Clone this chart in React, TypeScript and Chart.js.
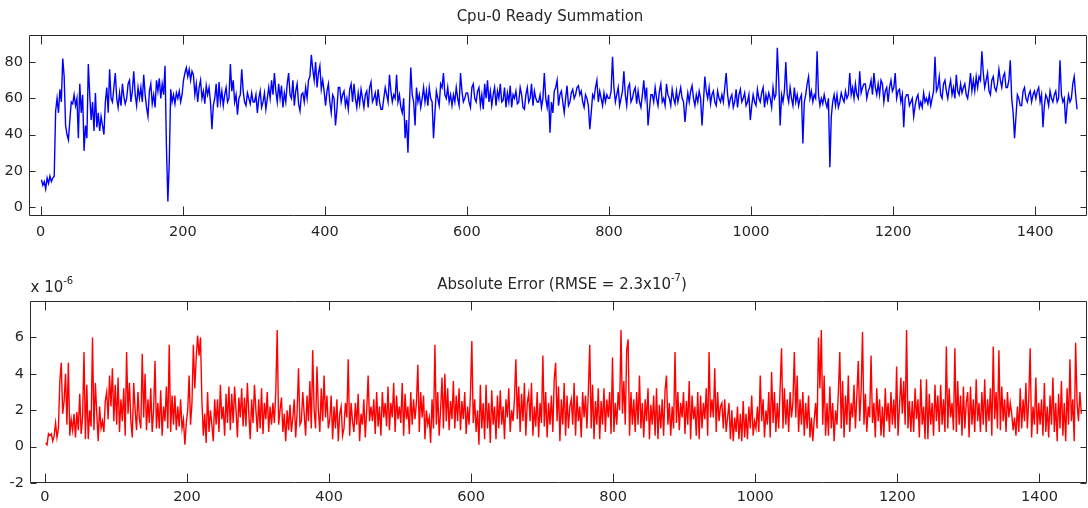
import React, { useEffect, useRef } from "react";
import { Chart, registerables } from "chart.js";

Chart.register(...registerables);

// Readings taken every SAMPLE_STEP samples, starting at sample FIRST_SAMPLE
const SAMPLE_STEP = 2;
const FIRST_SAMPLE = 1;

// Cpu-0 ready summation
const cpuReady: number[] = [
  15, 12, 14, 10, 16, 13, 17, 14, 16, 17, 53, 60, 52, 65, 58, 82, 72, 45, 40, 37, 48, 58, 57, 62, 56, 60, 38, 68, 52, 62, 31, 45, 38, 79, 62, 48, 58, 42, 63, 44, 52, 42, 50, 45, 40, 58, 66, 52, 76, 60,
  58, 66, 74, 60, 55, 63, 56, 68, 61, 57, 60, 68, 70, 58, 64, 75, 62, 56, 66, 60, 66, 58, 73, 62, 55, 50, 64, 68, 57, 62, 55, 70, 64, 71, 60, 68, 62, 78, 33, 3, 25, 65, 58, 62, 57, 63, 60, 64, 58, 62,
  70, 74, 77, 72, 76, 70, 75, 73, 62, 68, 58, 66, 70, 60, 64, 57, 67, 62, 66, 58, 43, 56, 60, 68, 55, 69, 58, 64, 56, 62, 66, 58, 60, 79, 64, 70, 58, 62, 51, 60, 62, 76, 64, 58, 56, 63, 60, 57, 63, 58,
  58, 62, 52, 60, 64, 55, 58, 63, 54, 60, 66, 60, 70, 62, 74, 64, 58, 68, 60, 67, 55, 63, 58, 68, 74, 62, 60, 70, 56, 64, 68, 57, 53, 62, 63, 58, 66, 60, 70, 72, 84, 76, 70, 80, 66, 74, 78, 65, 70, 64,
  56, 64, 68, 58, 52, 62, 60, 45, 54, 66, 66, 58, 62, 64, 56, 60, 54, 65, 68, 58, 68, 60, 55, 63, 57, 65, 60, 55, 62, 64, 55, 66, 69, 58, 60, 63, 56, 65, 58, 54, 54, 60, 66, 62, 58, 73, 64, 58, 62, 60,
  73, 58, 62, 55, 52, 60, 38, 48, 30, 55, 77, 62, 58, 45, 66, 58, 62, 55, 60, 66, 58, 64, 56, 66, 60, 58, 38, 52, 64, 60, 56, 68, 66, 74, 62, 60, 66, 58, 62, 56, 62, 58, 66, 60, 56, 74, 64, 58, 60, 63,
  63, 58, 55, 66, 68, 60, 58, 64, 66, 56, 62, 54, 68, 60, 70, 58, 64, 56, 62, 66, 56, 64, 60, 68, 58, 59, 66, 55, 63, 58, 67, 55, 62, 60, 64, 57, 58, 66, 62, 55, 54, 62, 66, 58, 60, 68, 56, 64, 60, 58,
  58, 62, 55, 60, 74, 60, 55, 62, 41, 58, 52, 64, 66, 70, 56, 62, 64, 58, 52, 60, 67, 56, 58, 63, 65, 60, 62, 66, 67, 62, 64, 58, 55, 62, 60, 56, 43, 52, 62, 60, 66, 70, 58, 64, 60, 56, 63, 58, 62, 60,
  60, 64, 83, 66, 58, 62, 66, 56, 60, 64, 75, 62, 56, 66, 68, 58, 60, 64, 66, 57, 64, 58, 55, 62, 70, 60, 66, 45, 54, 62, 62, 58, 66, 60, 56, 64, 68, 58, 60, 56, 68, 62, 60, 56, 65, 60, 57, 64, 58, 62,
  66, 60, 58, 47, 56, 63, 58, 64, 67, 60, 56, 62, 58, 64, 60, 45, 58, 72, 64, 60, 66, 57, 62, 64, 58, 56, 64, 60, 58, 62, 58, 66, 74, 62, 56, 60, 62, 55, 58, 65, 55, 62, 65, 58, 60, 63, 56, 58, 62, 48,
  56, 62, 58, 56, 65, 60, 58, 63, 66, 55, 62, 58, 63, 60, 55, 66, 60, 62, 88, 70, 45, 62, 58, 64, 80, 62, 58, 66, 60, 56, 66, 58, 62, 56, 60, 62, 35, 58, 62, 68, 72, 60, 64, 58, 62, 60, 86, 62, 56, 60,
  57, 62, 58, 55, 60, 22, 50, 58, 62, 56, 62, 55, 58, 63, 60, 58, 64, 60, 62, 74, 62, 66, 60, 68, 62, 60, 75, 63, 66, 68, 68, 60, 64, 66, 70, 62, 74, 66, 62, 68, 62, 70, 68, 58, 64, 66, 58, 66, 70, 64,
  66, 74, 60, 64, 65, 58, 62, 44, 60, 62, 62, 56, 58, 60, 50, 56, 60, 62, 55, 58, 55, 63, 58, 60, 57, 62, 56, 60, 64, 83, 64, 66, 72, 62, 60, 68, 70, 64, 60, 66, 70, 62, 66, 60, 73, 64, 62, 68, 63, 66,
  68, 62, 60, 66, 74, 64, 70, 64, 72, 66, 72, 70, 86, 74, 66, 70, 74, 64, 62, 70, 72, 66, 64, 68, 76, 70, 66, 72, 74, 66, 66, 70, 81, 60, 52, 38, 50, 62, 60, 56, 56, 64, 66, 60, 58, 62, 64, 58, 62, 64,
  60, 64, 66, 58, 62, 44, 56, 62, 60, 56, 64, 60, 58, 62, 64, 58, 60, 81, 62, 58, 60, 46, 56, 62, 58, 60, 68, 72, 62, 54,
];

// Absolute error, in units of 1e-6
const absError: number[] = [
  0.2, 0.1, 0.7, 0.6, 0.7, 0.3, 0.6, 1.3, 0.5, 1.0, 3.6, 4.6, 1.8, 2.5, 4.0, 1.2, 4.6, 0.6, 1.5, 0.9, 1.8, 0.5, 1.9, 0.9, 2.9, 0.7, 1.6, 5.2, 0.4, 3.4, 0.4, 2.0, 1.1, 6.0, 0.9, 3.5, 1.8, 0.3, 2.2, 1.0, 1.4, 0.8, 2.5, 3.0, 1.5, 3.9, 2.2, 4.3, 1.4, 3.4,
  1.2, 3.8, 0.8, 2.6, 1.4, 3.2, 0.6, 5.2, 1.8, 3.5, 1.4, 0.5, 3.5, 2.0, 0.9, 3.0, 1.5, 1.0, 5.1, 1.6, 4.0, 0.9, 2.6, 1.3, 3.2, 0.8, 2.0, 4.7, 1.0, 2.4, 1.0, 3.1, 0.6, 2.2, 1.4, 3.3, 1.0, 5.6, 0.8, 2.8, 1.2, 2.8, 0.9, 2.2, 1.1, 2.6, 1.0, 1.5, 0.1, 1.3,
  2.0, 3.9, 1.2, 2.4, 5.6, 3.2, 4.9, 6.1, 5.0, 6.0, 2.5, 0.6, 1.8, 0.2, 3.0, 0.8, 2.0, 1.2, 0.3, 2.6, 1.2, 2.6, 0.8, 3.4, 1.5, 2.2, 0.6, 2.9, 1.3, 3.3, 0.9, 2.9, 1.3, 3.3, 2.0, 0.5, 2.7, 1.6, 3.2, 1.1, 2.7, 1.1, 3.5, 1.8, 0.4, 2.6, 1.3, 3.4, 2.0, 0.8,
  2.6, 1.0, 3.2, 0.7, 2.4, 1.5, 3.0, 0.8, 2.2, 1.2, 2.4, 1.3, 3.0, 6.4, 1.2, 2.0, 2.7, 0.8, 1.8, 0.3, 2.0, 0.9, 2.3, 0.8, 1.6, 2.6, 0.5, 1.9, 4.3, 1.2, 1.4, 3.0, 1.8, 0.6, 2.8, 1.4, 3.6, 1.0, 5.3, 2.0, 1.0, 4.4, 2.0, 0.8, 3.2, 1.4, 3.9, 1.6, 2.8, 1.0,
  1.5, 2.8, 0.4, 2.2, 1.0, 2.6, 0.3, 1.8, 2.2, 0.6, 1.0, 2.4, 1.6, 4.8, 0.6, 2.4, 1.4, 0.8, 2.4, 1.2, 2.9, 0.3, 1.8, 1.2, 2.6, 0.5, 2.0, 3.9, 1.4, 2.2, 1.4, 2.6, 0.7, 3.0, 1.1, 2.2, 0.6, 3.0, 1.6, 2.4, 1.1, 3.3, 0.9, 2.4, 1.6, 3.5, 0.8, 2.8, 1.5, 2.2,
  1.3, 3.5, 0.6, 2.9, 1.5, 2.2, 0.7, 3.0, 1.2, 2.6, 1.5, 2.4, 4.5, 0.8, 3.0, 1.6, 2.8, 0.4, 2.0, 1.2, 1.6, 0.2, 2.6, 1.0, 5.6, 1.2, 3.0, 0.6, 2.0, 3.8, 1.0, 4.0, 1.4, 3.2, 0.9, 2.5, 1.5, 3.6, 1.0, 2.8, 1.4, 3.2, 0.9, 2.5, 1.5, 3.0, 0.7, 2.2, 1.2, 2.8,
  5.8, 1.3, 2.6, 0.8, 2.0, 0.1, 3.4, 1.0, 2.4, 0.4, 3.4, 1.0, 2.4, 0.2, 3.1, 1.2, 2.2, 0.4, 2.8, 1.0, 3.1, 1.2, 2.2, 0.4, 2.6, 1.6, 3.2, 0.8, 2.0, 1.4, 2.6, 4.8, 1.5, 3.3, 0.8, 2.9, 1.4, 3.5, 0.6, 2.4, 2.9, 1.4, 3.5, 0.6, 2.2, 1.1, 3.0, 0.5, 2.4, 1.3,
  5.0, 1.1, 3.0, 0.5, 2.4, 1.2, 2.8, 0.8, 3.7, 4.6, 1.4, 3.3, 0.3, 2.6, 1.2, 3.5, 0.6, 2.8, 1.0, 2.2, 2.6, 1.2, 3.5, 0.6, 2.8, 1.4, 2.2, 0.5, 3.0, 1.6, 2.8, 1.0, 3.0, 5.6, 1.0, 3.4, 0.4, 2.5, 1.2, 3.2, 0.4, 2.5, 1.2, 3.2, 0.8, 2.6, 1.6, 3.0, 0.7, 4.9,
  0.8, 2.4, 1.2, 3.0, 2.0, 6.4, 1.8, 3.6, 1.2, 5.3, 5.9, 0.6, 3.0, 1.2, 2.6, 0.8, 3.0, 1.2, 3.9, 1.0, 2.4, 0.5, 2.6, 1.4, 3.2, 0.4, 2.3, 1.2, 2.8, 0.6, 3.2, 0.4, 2.3, 1.0, 2.6, 0.6, 3.1, 3.9, 1.2, 2.4, 0.6, 2.2, 1.0, 5.2, 1.3, 3.0, 0.9, 2.4, 1.6, 3.0,
  0.7, 2.5, 1.2, 3.6, 0.4, 2.8, 1.5, 2.2, 0.6, 3.0, 0.4, 2.8, 1.0, 2.4, 1.5, 3.2, 0.6, 5.2, 1.6, 2.6, 1.6, 4.3, 0.8, 3.0, 1.4, 2.2, 2.4, 1.0, 2.6, 0.8, 1.6, 2.4, 0.4, 2.0, 0.3, 1.6, 0.8, 2.2, 0.4, 1.8, 0.3, 2.5, 0.5, 1.8, 0.4, 2.2, 1.0, 2.8, 0.6, 1.4,
  1.0, 2.2, 0.8, 3.9, 1.4, 2.6, 0.5, 2.0, 1.2, 3.0, 0.5, 4.1, 1.3, 3.0, 0.8, 2.4, 1.0, 3.2, 5.4, 1.0, 3.2, 1.2, 2.6, 0.8, 3.0, 1.6, 2.4, 5.2, 1.6, 3.9, 0.8, 2.6, 1.2, 3.0, 0.6, 2.4, 1.0, 2.8, 0.5, 1.6, 0.3, 1.5, 2.4, 1.0, 6.0, 3.2, 6.4, 1.2, 3.9, 0.6,
  2.4, 0.6, 3.3, 1.0, 2.4, 0.3, 2.0, 1.2, 3.0, 5.2, 1.0, 3.6, 0.5, 2.8, 1.2, 3.9, 0.8, 2.4, 1.6, 3.4, 1.0, 2.8, 4.7, 1.4, 3.0, 6.3, 1.2, 2.9, 0.8, 2.2, 1.6, 5.0, 1.3, 2.4, 0.5, 3.2, 1.4, 2.6, 0.6, 2.2, 0.5, 3.2, 1.4, 2.4, 0.8, 3.0, 1.2, 2.6, 1.0, 4.4,
  0.6, 2.2, 3.8, 1.8, 3.6, 1.2, 6.4, 1.0, 2.5, 0.8, 2.5, 0.8, 3.2, 1.5, 2.6, 0.5, 3.7, 1.2, 2.2, 0.4, 3.7, 0.4, 2.9, 1.2, 2.4, 0.6, 3.4, 1.4, 2.8, 0.8, 3.4, 1.2, 2.6, 0.8, 5.5, 1.0, 3.2, 1.6, 2.4, 0.9, 5.4, 0.8, 3.6, 1.2, 2.8, 0.6, 3.3, 1.0, 2.4, 3.0,
  0.5, 3.3, 1.2, 2.6, 0.8, 3.7, 1.4, 2.4, 0.8, 3.0, 1.2, 3.7, 0.8, 2.6, 1.4, 3.2, 0.6, 5.5, 1.5, 3.0, 1.0, 5.3, 0.9, 3.3, 1.4, 2.6, 0.8, 3.0, 1.6, 2.4, 1.8, 0.9, 1.6, 0.6, 2.2, 0.8, 3.2, 1.0, 2.6, 1.4, 3.5, 1.0, 2.6, 5.4, 0.5, 2.2, 1.2, 3.8, 0.7, 2.4,
  1.2, 2.6, 0.6, 3.5, 0.8, 2.2, 0.5, 2.8, 1.2, 3.8, 0.8, 2.4, 0.3, 2.9, 1.0, 3.6, 0.6, 2.4, 0.3, 3.2, 1.2, 4.8, 1.4, 2.6, 0.3, 5.7, 2.4, 1.4, 3.0, 1.8,
];

const xTicks: number[] = [0, 200, 400, 600, 800, 1000, 1200, 1400];
const cpuTicks: number[] = [0, 20, 40, 60, 80];
const errTicks: number[] = [-2, 0, 2, 4, 6];

const topTitle: string[] = ["Cpu-0 Ready Summation"];
const bottomTitle: string[] = ["Absolute Error (RMSE = 2.3x10", "-7", ")"];
const exponentLabel: string[] = ["x 10", "-6"];

const FONT = "'DejaVu Sans', 'Liberation Sans', Arial, sans-serif";
const TEXT = "#262626";

type Label = { parts: string[]; x: number; y: number; align: "center" | "left" };

function drawParts(ctx: CanvasRenderingContext2D, lbl: Label) {
  const mainFont = `15px ${FONT}`;
  const supFont = `10px ${FONT}`;
  const widths = lbl.parts.map((p, i) => {
    ctx.font = i % 2 === 1 ? supFont : mainFont;
    return ctx.measureText(p).width;
  });
  const total = widths.reduce((a, b) => a + b, 0);
  let x = lbl.align === "center" ? lbl.x - total / 2 : lbl.x;
  ctx.fillStyle = TEXT;
  ctx.textAlign = "left";
  ctx.textBaseline = "alphabetic";
  lbl.parts.forEach((p, i) => {
    const sup = i % 2 === 1;
    ctx.font = sup ? supFont : mainFont;
    ctx.fillText(p, x, sup ? lbl.y - 8 : lbl.y);
    x += widths[i];
  });
}

const frameAndText = {
  id: "frameAndText",
  afterDraw(chart: any, _args: any, opts: any) {
    const { ctx, chartArea: a, scales } = chart;
    ctx.save();
    ctx.strokeStyle = "#2a2a2a";
    ctx.lineWidth = 1;
    const L = Math.round(a.left) + 0.5;
    const R = Math.round(a.right) - 0.5;
    const T = Math.round(a.top) + 0.5;
    const B = Math.round(a.bottom) - 0.5;
    ctx.beginPath();
    ctx.rect(L, T, R - L, B - T);
    ctx.stroke();
    ctx.beginPath();
    scales.x.ticks.forEach((t: any) => {
      const px = Math.round(scales.x.getPixelForValue(t.value)) + 0.5;
      ctx.moveTo(px, B);
      ctx.lineTo(px, B - 9);
      ctx.moveTo(px, T);
      ctx.lineTo(px, T + 9);
    });
    scales.y.ticks.forEach((t: any) => {
      const py = Math.round(scales.y.getPixelForValue(t.value)) + 0.5;
      ctx.moveTo(L, py);
      ctx.lineTo(L + 6, py);
      ctx.moveTo(R, py);
      ctx.lineTo(R - 6, py);
    });
    ctx.stroke();
    (opts.labels || []).forEach((l: Label) => drawParts(ctx, l));
    ctx.restore();
  },
};

function makeConfig(
  values: number[],
  color: string,
  yMin: number,
  yMax: number,
  yTicks: number[],
  xMin: number,
  xMax: number,
  padTop: number,
  yWidth: number,
  xHeight: number,
  xPad: number,
  labels: Label[]
): any {
  const tickFont = { family: FONT, size: 14.5 };
  const plain = (v: any) => String(v);
  return {
    type: "line",
    data: {
      datasets: [
        {
          data: values.map((v, i) => ({ x: FIRST_SAMPLE + i * SAMPLE_STEP, y: v })),
          borderColor: color,
          borderWidth: 1.4,
          pointRadius: 0,
          tension: 0,
          fill: false,
        },
      ],
    },
    options: {
      animation: false,
      responsive: false,
      events: [],
      layout: { padding: { top: padTop, right: 1, left: 0, bottom: 0 } },
      plugins: {
        legend: { display: false },
        tooltip: { enabled: false },
        title: { display: false },
        frameAndText: { labels },
      },
      scales: {
        x: {
          type: "linear",
          min: xMin,
          max: xMax,
          afterBuildTicks: (s: any) => {
            s.ticks = xTicks.map((v) => ({ value: v }));
          },
          afterFit: (s: any) => {
            s.height = xHeight;
          },
          grid: { display: false, drawTicks: false },
          border: { display: false },
          ticks: { padding: xPad, color: TEXT, font: tickFont, maxRotation: 0, autoSkip: false, callback: plain },
        },
        y: {
          type: "linear",
          min: yMin,
          max: yMax,
          afterBuildTicks: (s: any) => {
            s.ticks = yTicks.map((v) => ({ value: v }));
          },
          afterFit: (s: any) => {
            s.width = yWidth;
          },
          grid: { display: false, drawTicks: false },
          border: { display: false },
          ticks: { padding: 6, color: TEXT, font: tickFont, autoSkip: false, callback: plain },
        },
      },
    },
    plugins: [frameAndText],
  };
}

export default function App() {
  const topRef = useRef<HTMLCanvasElement>(null);
  const botRef = useRef<HTMLCanvasElement>(null);

  useEffect(() => {
    const top = new Chart(
      topRef.current!,
      makeConfig(cpuReady, "#0000ff", -5, 95, cpuTicks, -16.5, 1473, 35, 29, 34, 8, [
        { parts: topTitle, x: 550, y: 20.5, align: "center" },
      ])
    );
    const bot = new Chart(
      botRef.current!,
      makeConfig(absError, "#ff0000", -2, 8, errTicks, -21, 1467, 51, 30, 25, 6, [
        { parts: bottomTitle, x: 562, y: 38.5, align: "center" },
        { parts: exponentLabel, x: 30.5, y: 41.5, align: "left" },
      ])
    );
    return () => {
      top.destroy();
      bot.destroy();
    };
  }, []);

  return (
    <div style={{ position: "absolute", left: 0, top: 0, width: 1088, height: 508, background: "#fff" }}>
      <canvas ref={topRef} width={1088} height={250} style={{ position: "absolute", left: 0, top: 0 }} />
      <canvas ref={botRef} width={1088} height={258} style={{ position: "absolute", left: 0, top: 250 }} />
    </div>
  );
}
